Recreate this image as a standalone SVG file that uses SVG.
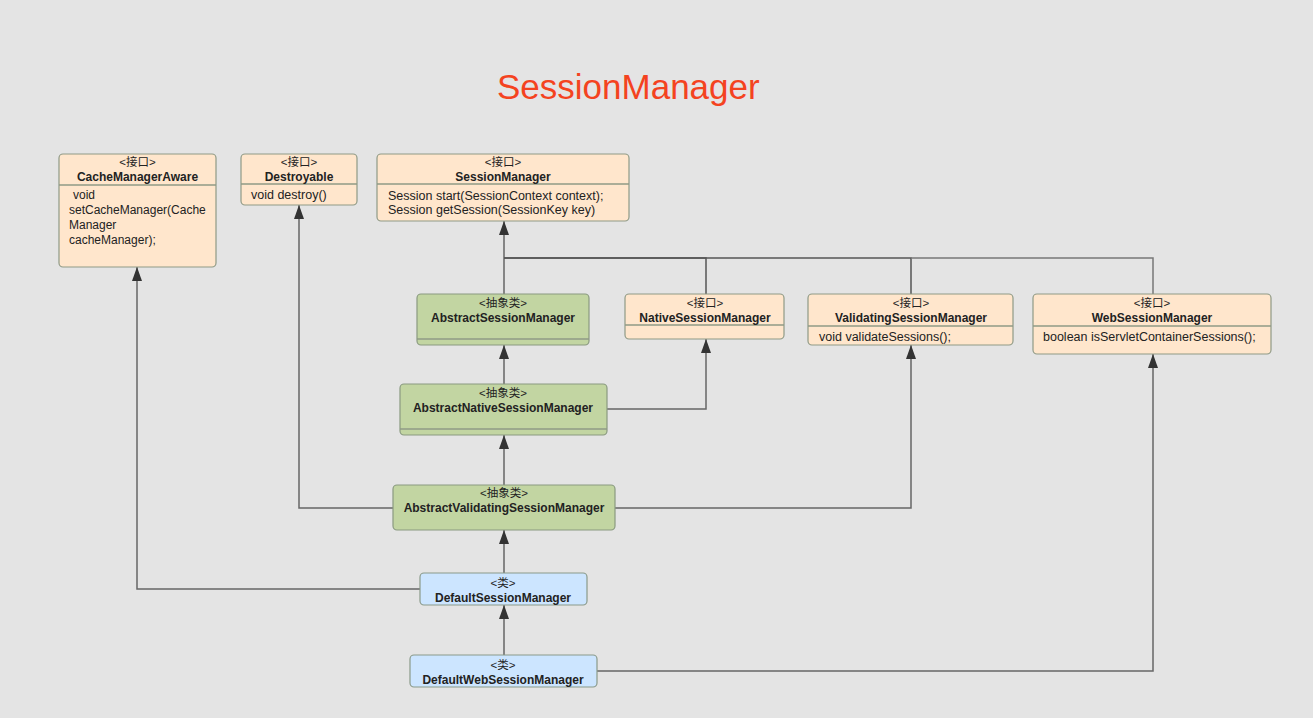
<svg xmlns="http://www.w3.org/2000/svg" width="1313" height="718" viewBox="0 0 1313 718">
<defs>
<marker id="arr" markerWidth="14" markerHeight="10" refX="14" refY="5" orient="auto" markerUnits="userSpaceOnUse" viewBox="0 0 14 10">
<path d="M0,0 L14,5 L0,10 Z" fill="#333"/>
</marker>
<style>
.bg{fill:#e4e4e4}
.iface{fill:#ffe6cc;stroke:#8f9a86;stroke-width:1.2}
.abs{fill:#c2d5a2;stroke:#8a9a80;stroke-width:1.2}
.cls{fill:#cce5ff;stroke:#8a9a8a;stroke-width:1.2}
.sep{stroke:#8f9a86;stroke-width:1.5}
.st{font-family:"Liberation Sans","Noto Sans CJK SC",sans-serif;font-size:11.5px;fill:#222;text-anchor:middle}
.nm{font-family:"Liberation Sans","Noto Sans CJK SC",sans-serif;font-size:12px;font-weight:bold;fill:#222;text-anchor:middle}
.bd{font-family:"Liberation Sans",sans-serif;font-size:12.5px;fill:#222}
.bds{font-family:"Liberation Sans",sans-serif;font-size:12px;fill:#222}
.ln{fill:none;stroke:#666;stroke-width:1.5}
.ttl{font-family:"Liberation Sans",Arial,sans-serif;font-size:35px;fill:#f4431f}
</style>
</defs>
<rect class="bg" x="0" y="0" width="1313" height="718"/>
<text class="ttl" x="497" y="99">SessionManager</text>

<g id="connectors">
<path class="ln" d="M504,294 L504,221" marker-end="url(#arr)"/>
<path class="ln" d="M706,294 L706,258 L504,258" style="stroke:#555"/>
<path class="ln" d="M911,294 L911,258 L504,258" style="stroke:#555"/>
<path class="ln" d="M1153,294 L1153,258 L911,258" style="stroke:#777"/>
<path class="ln" d="M504,384 L504,345" marker-end="url(#arr)"/>
<path class="ln" d="M607,409 L706,409 L706,339" marker-end="url(#arr)"/>
<path class="ln" d="M504,485 L504,435" marker-end="url(#arr)"/>
<path class="ln" d="M393,508 L299,508 L299,205" marker-end="url(#arr)"/>
<path class="ln" d="M615,508 L911,508 L911,345" marker-end="url(#arr)"/>
<path class="ln" d="M504,573 L504,530" marker-end="url(#arr)"/>
<path class="ln" d="M420,589 L137,589 L137,267" marker-end="url(#arr)"/>
<path class="ln" d="M504,655 L504,605" marker-end="url(#arr)"/>
<path class="ln" d="M597,671 L1153,671 L1153,354" marker-end="url(#arr)"/>
</g>

<g id="CacheManagerAware">
<rect class="iface" x="59" y="154" width="157" height="113" rx="4"/>
<line class="sep" x1="59" y1="185" x2="216" y2="185"/>
<text class="st" x="137.5" y="166">&lt;接口&gt;</text>
<text class="nm" x="137.5" y="181">CacheManagerAware</text>
<text class="bds" x="73" y="199">void</text>
<text class="bds" x="69" y="214">setCacheManager(Cache</text>
<text class="bds" x="69" y="229">Manager</text>
<text class="bds" x="69" y="244">cacheManager);</text>
</g>

<g id="Destroyable">
<rect class="iface" x="241" y="154" width="116" height="51" rx="4"/>
<line class="sep" x1="241" y1="184" x2="357" y2="184"/>
<text class="st" x="299" y="166">&lt;接口&gt;</text>
<text class="nm" x="299" y="181">Destroyable</text>
<text class="bd" x="251" y="199">void destroy()</text>
</g>

<g id="SessionManager">
<rect class="iface" x="377" y="154" width="252" height="67" rx="4"/>
<line class="sep" x1="377" y1="184" x2="629" y2="184"/>
<text class="st" x="503" y="166">&lt;接口&gt;</text>
<text class="nm" x="503" y="181">SessionManager</text>
<text class="bd" x="388" y="200">Session start(SessionContext context);</text>
<text class="bd" x="388" y="214">Session getSession(SessionKey key)</text>
</g>

<g id="AbstractSessionManager">
<rect class="abs" x="417" y="294" width="172" height="51" rx="4"/>
<line class="sep" x1="417" y1="339" x2="589" y2="339"/>
<text class="st" x="503" y="307">&lt;抽象类&gt;</text>
<text class="nm" x="503" y="322">AbstractSessionManager</text>
</g>

<g id="NativeSessionManager">
<rect class="iface" x="625" y="294" width="159" height="45" rx="4"/>
<line class="sep" x1="625" y1="325" x2="784" y2="325"/>
<text class="st" x="705" y="307">&lt;接口&gt;</text>
<text class="nm" x="705" y="322">NativeSessionManager</text>
</g>

<g id="ValidatingSessionManager">
<rect class="iface" x="808" y="294" width="205" height="51" rx="4"/>
<line class="sep" x1="808" y1="326" x2="1013" y2="326"/>
<text class="st" x="911" y="307">&lt;接口&gt;</text>
<text class="nm" x="911" y="322">ValidatingSessionManager</text>
<text class="bd" x="819" y="341">void validateSessions();</text>
</g>

<g id="WebSessionManager">
<rect class="iface" x="1033" y="294" width="238" height="60" rx="4"/>
<line class="sep" x1="1033" y1="326" x2="1271" y2="326"/>
<text class="st" x="1152" y="307">&lt;接口&gt;</text>
<text class="nm" x="1152" y="322">WebSessionManager</text>
<text class="bd" x="1043" y="341">boolean isServletContainerSessions();</text>
</g>

<g id="AbstractNativeSessionManager">
<rect class="abs" x="400" y="384" width="207" height="51" rx="4"/>
<line class="sep" x1="400" y1="429" x2="607" y2="429"/>
<text class="st" x="503" y="397">&lt;抽象类&gt;</text>
<text class="nm" x="503" y="412">AbstractNativeSessionManager</text>
</g>

<g id="AbstractValidatingSessionManager">
<rect class="abs" x="393" y="485" width="222" height="45" rx="4"/>
<text class="st" x="504" y="497">&lt;抽象类&gt;</text>
<text class="nm" x="504" y="512">AbstractValidatingSessionManager</text>
</g>

<g id="DefaultSessionManager">
<rect class="cls" x="420" y="573" width="167" height="32" rx="4"/>
<text class="st" x="503" y="587">&lt;类&gt;</text>
<text class="nm" x="503" y="602">DefaultSessionManager</text>
</g>

<g id="DefaultWebSessionManager">
<rect class="cls" x="410" y="655" width="187" height="32" rx="4"/>
<text class="st" x="503" y="669">&lt;类&gt;</text>
<text class="nm" x="503" y="684">DefaultWebSessionManager</text>
</g>
</svg>
